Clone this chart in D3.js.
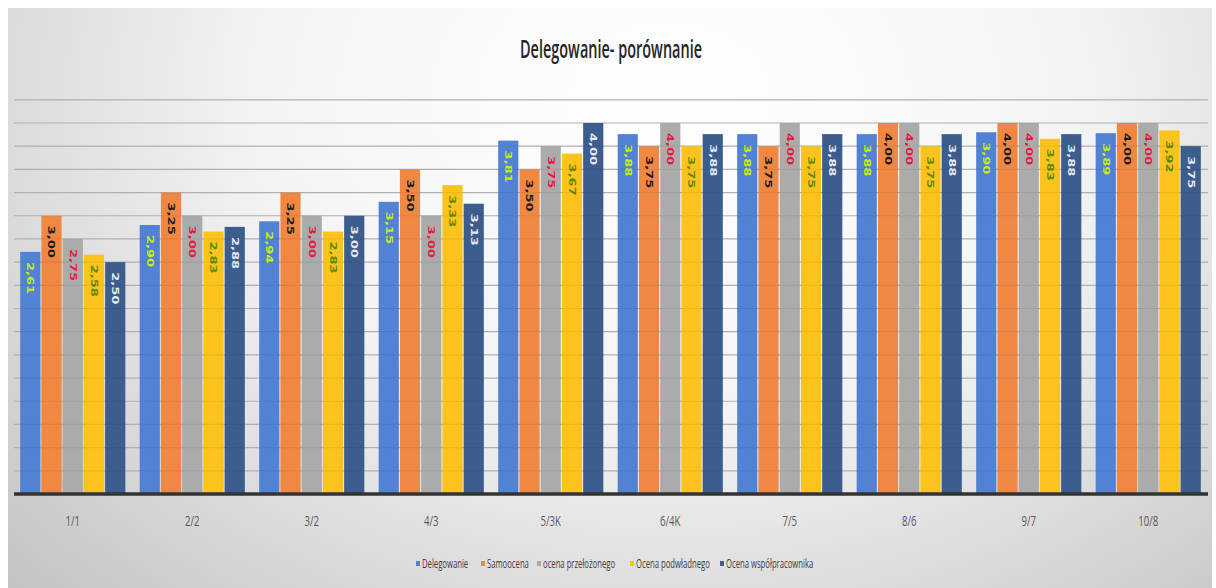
<!DOCTYPE html>
<meta charset="utf-8">
<style>
body { margin: 0; background: #fff; }
svg { display: block; }
.cat { font-family: "Open Sans", sans-serif; font-size: 12px; fill: #595959; }
.leg { font-family: "Open Sans", sans-serif; font-size: 11px; fill: #404040; }
.val { font-family: "DejaVu Sans", sans-serif; font-size: 9px; font-weight: bold; }
</style>
<body>
<div id="chart"></div>
<script src="https://cdnjs.cloudflare.com/ajax/libs/d3/7.8.5/d3.min.js"></script>
<script>

var categories = ["1/1", "2/2", "3/2", "4/3", "5/3K", "6/4K", "7/5", "8/6", "9/7", "10/8"];
var seriesNames = ["Delegowanie", "Samoocena", "ocena przełożonego", "Ocena podwładnego", "Ocena współpracownika"];

// one array per series, same order as categories
var delegowanie   = [2.61, 2.90, 2.94, 3.15, 3.81, 3.88, 3.88, 3.88, 3.90, 3.89];
var samoocena     = [3.00, 3.25, 3.25, 3.50, 3.50, 3.75, 3.75, 4.00, 4.00, 4.00];
var przelozonego  = [2.75, 3.00, 3.00, 3.00, 3.75, 4.00, 4.00, 4.00, 4.00, 4.00];
var podwladnego   = [2.58, 2.83, 2.83, 3.33, 3.67, 3.75, 3.75, 3.75, 3.83, 3.92];
var wspolprac     = [2.50, 2.88, 3.00, 3.13, 4.00, 3.88, 3.88, 3.88, 3.88, 3.75];
var gridTicks = d3.range(0, 4.26, 0.25);

var seriesValues = [delegowanie, samoocena, przelozonego, podwladnego, wspolprac];
var barColors   = ["#5282d4", "#ee8843", "#ababab", "#fcc31c", "#3d5d8f"];
var labelColors = ["#c6ef10", "#1a1a1a", "#e8173f", "#5e8a00", "#e4ebf7"];

var W = 1216, H = 588;
var svg = d3.select("#chart").append("svg").attr("width", W).attr("height", H);

// background gradient (grey sides, white centre)
var defs = svg.append("defs");
var grad = defs.append("radialGradient").attr("id", "bg")
  .attr("cx", "55%").attr("cy", "20%").attr("r", "75%")
  .attr("gradientTransform", "scale(1,1.6) translate(0,-0.1)");
grad.append("stop").attr("offset", "0%").attr("stop-color", "#ffffff");
grad.append("stop").attr("offset", "45%").attr("stop-color", "#f4f4f4");
grad.append("stop").attr("offset", "100%").attr("stop-color", "#c4c4c4");
svg.append("rect").attr("x", 8).attr("y", 8).attr("width", 1204).attr("height", 580)
  .attr("fill", "url(#bg)");

var x0 = d3.scaleBand().domain(categories).range([13, 1208]).paddingInner(0.12).paddingOuter(0.06);
var x1 = d3.scaleBand().domain(d3.range(5)).range([0, x0.bandwidth()]).paddingInner(0.05);
var y = d3.scaleLinear().domain([0, 4]).range([494, 123]);

// grid lines
svg.append("g").selectAll("line").data(gridTicks.slice(1)).enter().append("line")
  .attr("x1", 14).attr("x2", 1208)
  .attr("y1", function(d) { return y(d); }).attr("y2", function(d) { return y(d); })
  .attr("stroke", "#bcbcbc").attr("stroke-width", 1.2);

// bars
var groups = svg.append("g").selectAll("g").data(categories).enter().append("g")
  .attr("transform", function(d) { return "translate(" + x0(d) + ",0)"; });

groups.selectAll("rect").data(function(d, ci) {
    return seriesValues.map(function(vals, si) { return {s: si, v: vals[ci]}; });
  }).enter().append("rect")
  .attr("x", function(d) { return x1(d.s); })
  .attr("y", function(d) { return y(d.v); })
  .attr("width", x1.bandwidth())
  .attr("height", function(d) { return y(0) - y(d.v); })
  .attr("fill", function(d) { return barColors[d.s]; });

// grid lines showing faintly through bars
svg.append("g").selectAll("line").data(gridTicks.slice(1)).enter().append("line")
  .attr("x1", 14).attr("x2", 1208)
  .attr("y1", function(d) { return y(d); }).attr("y2", function(d) { return y(d); })
  .attr("stroke", "#000").attr("stroke-opacity", 0.06).attr("stroke-width", 1.2);

// value labels, rotated, inside top of bar
groups.selectAll("text").data(function(d, ci) {
    return seriesValues.map(function(vals, si) { return {s: si, v: vals[ci]}; });
  }).enter().append("text")
  .attr("class", "val")
  .attr("transform", function(d) {
    return "translate(" + (x1(d.s) + x1.bandwidth() / 2) + "," + (y(d.v) + 10) + ") rotate(90) scale(1.45,1)";
  })
  .attr("dy", "0.35em")
  .attr("fill", function(d) { return labelColors[d.s]; })
  .text(function(d) { return d.v.toFixed(2).replace(".", ","); });

// x axis line
svg.append("line").attr("x1", 14).attr("x2", 1208).attr("y1", y(0)).attr("y2", y(0))
  .attr("stroke", "#333").attr("stroke-width", 3.5);

// category labels
svg.append("g").selectAll("text").data(categories).enter().append("text")
  .attr("class", "cat")
  .attr("text-anchor", "middle")
  .attr("transform", function(d) {
    return "translate(" + (x0(d) + x0.bandwidth() / 2) + ",526) scale(0.8,1.25)";
  })
  .text(function(d) { return d; });

// title
svg.append("text")
  .attr("transform", "translate(611,58) scale(1,1.3)")
  .attr("text-anchor", "middle")
  .attr("font-family", "Open Sans, sans-serif")
  .attr("font-size", 20)
  .attr("font-weight", 600)
  .attr("fill", "#262626")
  .attr("textLength", 182)
  .attr("lengthAdjust", "spacingAndGlyphs")
  .text("Delegowanie- porównanie");

// legend
var legX = [416, 481, 537, 630, 720];
var leg = svg.append("g").selectAll("g").data(seriesNames).enter().append("g")
  .attr("transform", function(d, i) { return "translate(" + legX[i] + ",564)"; });
leg.append("rect").attr("x", 0).attr("y", -3).attr("width", 4).attr("height", 5)
  .attr("fill", function(d, i) { return barColors[i]; });
leg.append("text").attr("class", "leg")
  .attr("transform", "translate(6,4) scale(0.7,1.2)")
  .text(function(d) { return d; });

</script>
</body>
